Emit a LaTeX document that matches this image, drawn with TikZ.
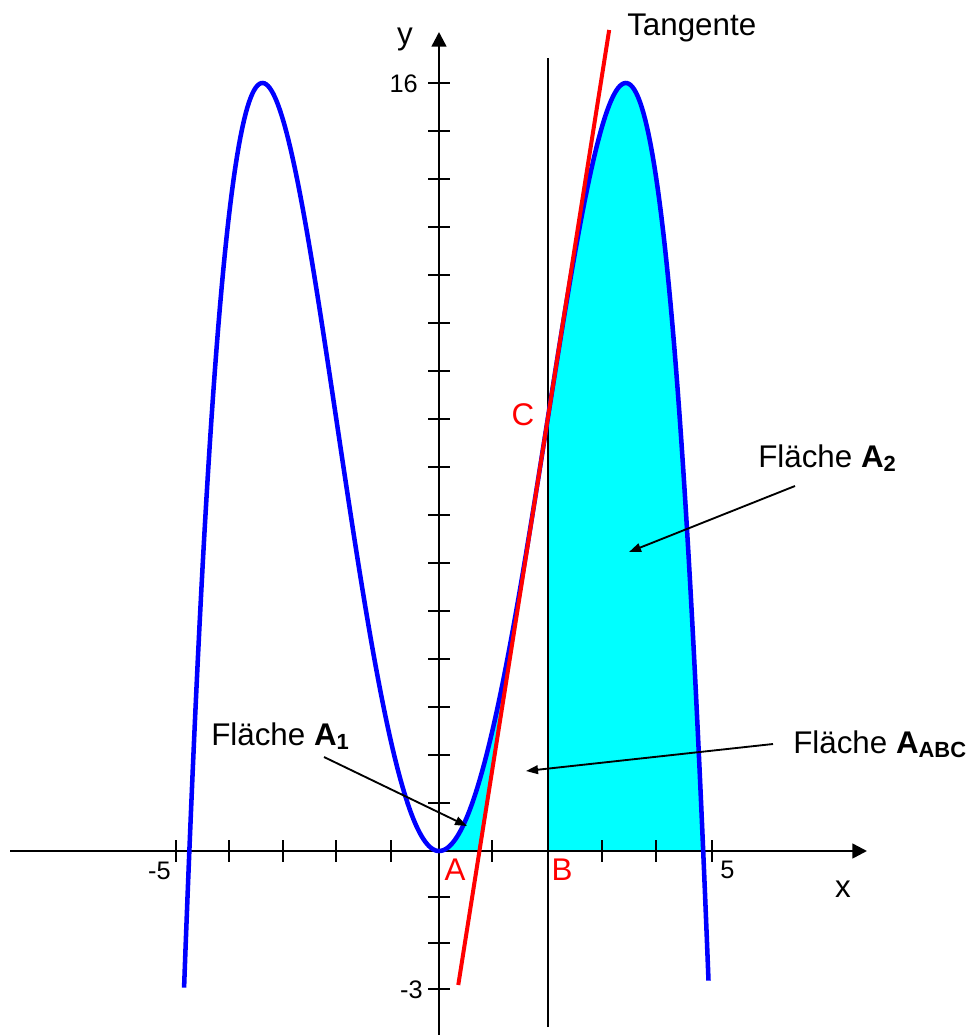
\documentclass[tikz,border=0pt]{standalone}
\usepackage{fontspec}
\setmainfont{Liberation Sans}
\usetikzlibrary{arrows.meta}
\definecolor{aqua}{RGB}{0,255,255}
\begin{document}
\begin{tikzpicture}[x=0.75pt,y=-0.75pt,
  declare function={f(\t)=0.11589*(23.5*\t*\t-\t*\t*\t*\t);},
  txt/.style={inner sep=0pt,font=\fontsize{23.5}{28}\selectfont},
  num/.style={inner sep=0pt,font=\fontsize{19}{23}\selectfont},
  axisline/.style={line width=1.9pt,-{Triangle[length=11pt,width=11pt]}},
  tickline/.style={line width=1.8pt},
  graph/.style={blue,line width=3.4pt},
  tang/.style={red,line width=3pt},
  note/.style={line width=1.4pt,-{Triangle[length=9pt,width=6.5pt]}},
  redlbl/.style={txt,red}
]
\useasboundingbox (0,0) rectangle (972,1035);
% key points
\coordinate (O) at (439,851);
\coordinate (A) at (479.43,851);
\coordinate (B) at (548,851);
\coordinate (C) at (548,417.1);
\coordinate (T1) at (458.26,985);
\coordinate (T2) at (609.17,30);
\coordinate (Vtop) at (548,58);
\coordinate (Vbot) at (548,1027);
\coordinate (Xl) at (10,851);
\coordinate (Xr) at (867,851);
\coordinate (Yb) at (439,1035);
\coordinate (Yt) at (439,32);
% shaded areas
\fill[aqua] (O) -- plot[domain=0:4.8477,samples=150] ({439+54.5*\x},{851-48*f(\x)}) -- (B) -- (C) -- (A) -- cycle;
% axes
\draw[axisline] (Xl) -- (Xr);
\draw[axisline] (Yb) -- (Yt);
\foreach \k in {1,...,16} \draw[tickline] (428,{851-48*\k}) -- (450,{851-48*\k});
\foreach \p in {897,943,989} \draw[tickline] (428,\p) -- (450,\p);
\foreach \p in {176,229,283,336,391,492,548,602,656,712} \draw[tickline] (\p,840) -- (\p,862);
% vertical line x = 2
\draw[line width=1.5pt] (Vbot) -- (Vtop);
% graph
\draw[graph] plot[domain=-4.95:0,samples=150] ({439+51.5*\x},{851-48*f(\x)})
  -- plot[domain=0:4.946,samples=150] ({439+54.5*\x},{851-48*f(\x)});
% tangent
\draw[tang] (T1) -- (T2);
% axis labels
\node[txt,anchor=base] (ylab) at (405,44) {y};
\node[txt,anchor=base] (xlab) at (843,897) {x};
\node[num,anchor=base east] (n16) at (418,92) {16};
\node[num,anchor=base east] (nm3) at (423,998) {-3};
\node[num,anchor=base east] (nm5) at (171,879) {-5};
\node[num,anchor=base west] (n5) at (720,878) {5};
% points
\node[redlbl,anchor=base] (lA) at (455,880) {A};
\node[redlbl,anchor=base] (lB) at (562,880) {B};
\node[redlbl,anchor=base] (lC) at (523,425) {C};
% texts
\node[txt,anchor=base west] (tan) at (627,35) {Tangente};
\node[txt,anchor=base west] (fA2) at (758,467) {Fläche \textbf{A\textsubscript{2}}};
\node[txt,anchor=base west] (fABC) at (793,753) {Fläche \textbf{A\textsubscript{ABC}}};
\node[txt,anchor=base west] (fA1) at (211,745) {Fläche \textbf{A\textsubscript{1}}};
% arrows
\coordinate (a1s) at (324,757); \coordinate (a1e) at (467,826);
\coordinate (a2s) at (795,486); \coordinate (a2e) at (629,552);
\coordinate (a3s) at (773,744); \coordinate (a3e) at (526,771);
\draw[note] (a1s) -- (a1e);
\draw[note] (a2s) -- (a2e);
\draw[note] (a3s) -- (a3e);
\end{tikzpicture}
\end{document}
